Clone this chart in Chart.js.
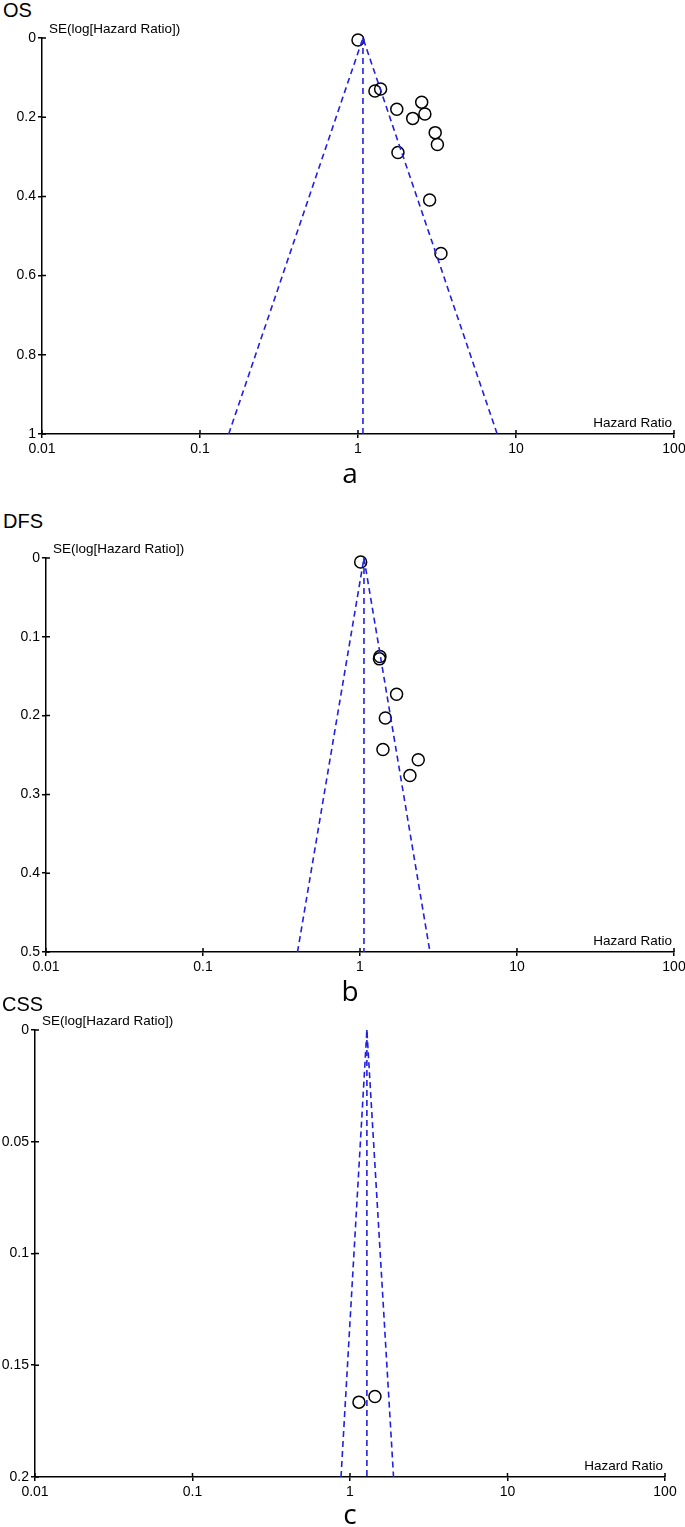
<!DOCTYPE html>
<html>
<head>
<meta charset="utf-8">
<script src="https://cdn.jsdelivr.net/npm/chart.js@4.4.1/dist/chart.umd.min.js"></script>
<style>
  body { margin: 0; width: 685px; height: 1527px; background: #fff; position: relative; overflow: hidden; font-family: 'Liberation Sans', Arial, sans-serif; }
  .panel { position: absolute; left: 0; }
  .title { position: absolute; font-size: 20px; line-height: 20px; color: #000; }
  .letter { position: absolute; left: 320px; width: 60px; text-align: center; font-family: 'Open Sans', sans-serif; font-size: 28px; line-height: 28px; color: #000; }
</style>
</head>
<body>
<div class="title" style="left:3px;top:0px">OS</div>
<div class="panel" style="top:0px"><canvas id="osChart" width="685" height="500"></canvas></div>
<div class="letter" style="top:458px">a</div>

<div class="title" style="left:3px;top:511px">DFS</div>
<div class="panel" style="top:500px"><canvas id="dfsChart" width="685" height="500"></canvas></div>
<div class="letter" style="top:976px">b</div>

<div class="title" style="left:2px;top:994px">CSS</div>
<div class="panel" style="top:1000px"><canvas id="cssChart" width="685" height="527"></canvas></div>
<div class="letter" style="top:1499px">c</div>

<script>
// Shared axis ticks
const xTicks = [0.01, 0.1, 1, 10, 100];
const xTickLabels = ['0.01', '0.1', '1', '10', '100'];
const xTitle = 'Hazard Ratio';
const yTitle = 'SE(log[Hazard Ratio])';

// OS
const osHR = [1.00, 1.28, 1.39, 1.76, 2.53, 2.22, 2.65, 3.08, 3.18, 1.79, 2.84, 3.35];
const osSE = [0.005, 0.134, 0.129, 0.180, 0.162, 0.203, 0.192, 0.239, 0.269, 0.289, 0.409, 0.544];
const osFunnelHR = [0.152, 1.075, 7.6];
const osFunnelSE = [1, 0, 1];
const osPooledHR = [1.075, 1.075];
const osPooledSE = [0, 1];
const osYTicks = [0, 0.2, 0.4, 0.6, 0.8, 1];
const osYLabels = ['0', '0.2', '0.4', '0.6', '0.8', '1'];

// DFS
const dfsHR = [1.01, 1.34, 1.33, 1.71, 1.45, 1.40, 2.35, 2.08];
const dfsSE = [0.005, 0.125, 0.128, 0.173, 0.203, 0.243, 0.256, 0.276];
const dfsFunnelHR = [0.40, 1.06, 2.79];
const dfsFunnelSE = [0.5, 0, 0.5];
const dfsPooledHR = [1.06, 1.06];
const dfsPooledSE = [0, 0.5];
const dfsYTicks = [0, 0.1, 0.2, 0.3, 0.4, 0.5];
const dfsYLabels = ['0', '0.1', '0.2', '0.3', '0.4', '0.5'];

// CSS
const cssHR = [1.14, 1.44];
const cssSE = [0.1665, 0.164];
const cssFunnelHR = [0.877, 1.28, 1.89];
const cssFunnelSE = [0.2, 0, 0.2];
const cssPooledHR = [1.28, 1.28];
const cssPooledSE = [0, 0.2];
const cssYTicks = [0, 0.05, 0.1, 0.15, 0.2];
const cssYLabels = ['0', '0.05', '0.1', '0.15', '0.2'];

const FONT = "'Liberation Sans', Arial, sans-serif";
const BLUE = '#2020e0';

function pts(xs, ys) {
    return xs.map((v, i) => ({ x: v, y: ys[i] }));
}

// inner half of the crossing tick marks + axis titles
const decorPlugin = {
    id: 'decor',
    afterDraw(chart) {
        const { ctx, chartArea: a, scales: { x, y } } = chart;
        ctx.save();
        ctx.strokeStyle = '#000';
        ctx.lineWidth = 1.5;
        ctx.beginPath();
        x.ticks.forEach(t => {
            const px = x.getPixelForValue(t.value);
            ctx.moveTo(px, a.bottom);
            ctx.lineTo(px, a.bottom - 4);
        });
        y.ticks.forEach(t => {
            const py = y.getPixelForValue(t.value);
            ctx.moveTo(a.left, py);
            ctx.lineTo(a.left + 4, py);
        });
        ctx.stroke();
        ctx.fillStyle = '#000';
        ctx.font = '13.5px ' + FONT;
        ctx.textBaseline = 'middle';
        ctx.textAlign = 'left';
        ctx.fillText(yTitle, a.left + 7, a.top - 9);
        ctx.textAlign = 'right';
        ctx.fillText(xTitle, a.right - 2, a.bottom - 11);
        ctx.restore();
    }
};

function makeFunnel(id, d, g) {
    const canvas = document.getElementById(id);
    const H = canvas.height;
    return new Chart(canvas.getContext('2d'), {
        type: 'scatter',
        data: {
            datasets: [
                {
                    data: pts(d.funnelHR, d.funnelSE),
                    showLine: true,
                    borderColor: BLUE,
                    borderWidth: 1.6,
                    borderDash: [6, 4],
                    pointRadius: 0
                },
                {
                    data: pts(d.pooledHR, d.pooledSE),
                    showLine: true,
                    borderColor: BLUE,
                    borderWidth: 1.6,
                    borderDash: [6, 4],
                    pointRadius: 0
                },
                {
                    data: pts(d.hr, d.se),
                    pointRadius: 6,
                    pointBorderWidth: 1.5,
                    pointBorderColor: '#000',
                    pointBackgroundColor: 'rgba(0,0,0,0)',
                    clip: false
                }
            ]
        },
        options: {
            responsive: false,
            animation: false,
            devicePixelRatio: 1,
            layout: { padding: { top: g.top, right: 685 - g.right, left: 0, bottom: 0 } },
            plugins: { legend: { display: false }, tooltip: { enabled: false } },
            scales: {
                x: {
                    type: 'logarithmic',
                    min: 0.01,
                    max: 100,
                    grid: { drawOnChartArea: false, tickLength: 4, color: '#000', lineWidth: 1.5 },
                    border: { display: true, color: '#000', width: 1.5 },
                    ticks: {
                        color: '#000', font: { size: 14, family: FONT }, padding: 3,
                        maxRotation: 0, autoSkip: false,
                        callback: (v, i) => xTickLabels[i]
                    },
                    afterBuildTicks: s => { s.ticks = xTicks.map(v => ({ value: v })); },
                    afterFit: s => { s.height = H - g.bottom; s.paddingLeft = 0; s.paddingRight = 0; }
                },
                y: {
                    type: 'linear',
                    reverse: true,
                    min: 0,
                    max: d.yTicks[d.yTicks.length - 1],
                    grid: { drawOnChartArea: false, tickLength: 4, color: '#000', lineWidth: 1.5 },
                    border: { display: true, color: '#000', width: 1.5 },
                    ticks: {
                        color: '#000', font: { size: 14, family: FONT }, padding: 2,
                        autoSkip: false,
                        callback: (v, i) => d.yLabels[i]
                    },
                    afterBuildTicks: s => { s.ticks = d.yTicks.map(v => ({ value: v })); },
                    afterFit: s => { s.width = g.left; s.paddingTop = 0; s.paddingBottom = 0; }
                }
            }
        },
        plugins: [decorPlugin]
    });
}

const osChart = makeFunnel('osChart', {
    hr: osHR, se: osSE, funnelHR: osFunnelHR, funnelSE: osFunnelSE,
    pooledHR: osPooledHR, pooledSE: osPooledSE, yTicks: osYTicks, yLabels: osYLabels
}, { left: 42, right: 674, top: 38, bottom: 434 });

const dfsChart = makeFunnel('dfsChart', {
    hr: dfsHR, se: dfsSE, funnelHR: dfsFunnelHR, funnelSE: dfsFunnelSE,
    pooledHR: dfsPooledHR, pooledSE: dfsPooledSE, yTicks: dfsYTicks, yLabels: dfsYLabels
}, { left: 46, right: 674, top: 58, bottom: 452 });

const cssChart = makeFunnel('cssChart', {
    hr: cssHR, se: cssSE, funnelHR: cssFunnelHR, funnelSE: cssFunnelSE,
    pooledHR: cssPooledHR, pooledSE: cssPooledSE, yTicks: cssYTicks, yLabels: cssYLabels
}, { left: 35, right: 665, top: 30, bottom: 477 });
</script>
</body>
</html>
